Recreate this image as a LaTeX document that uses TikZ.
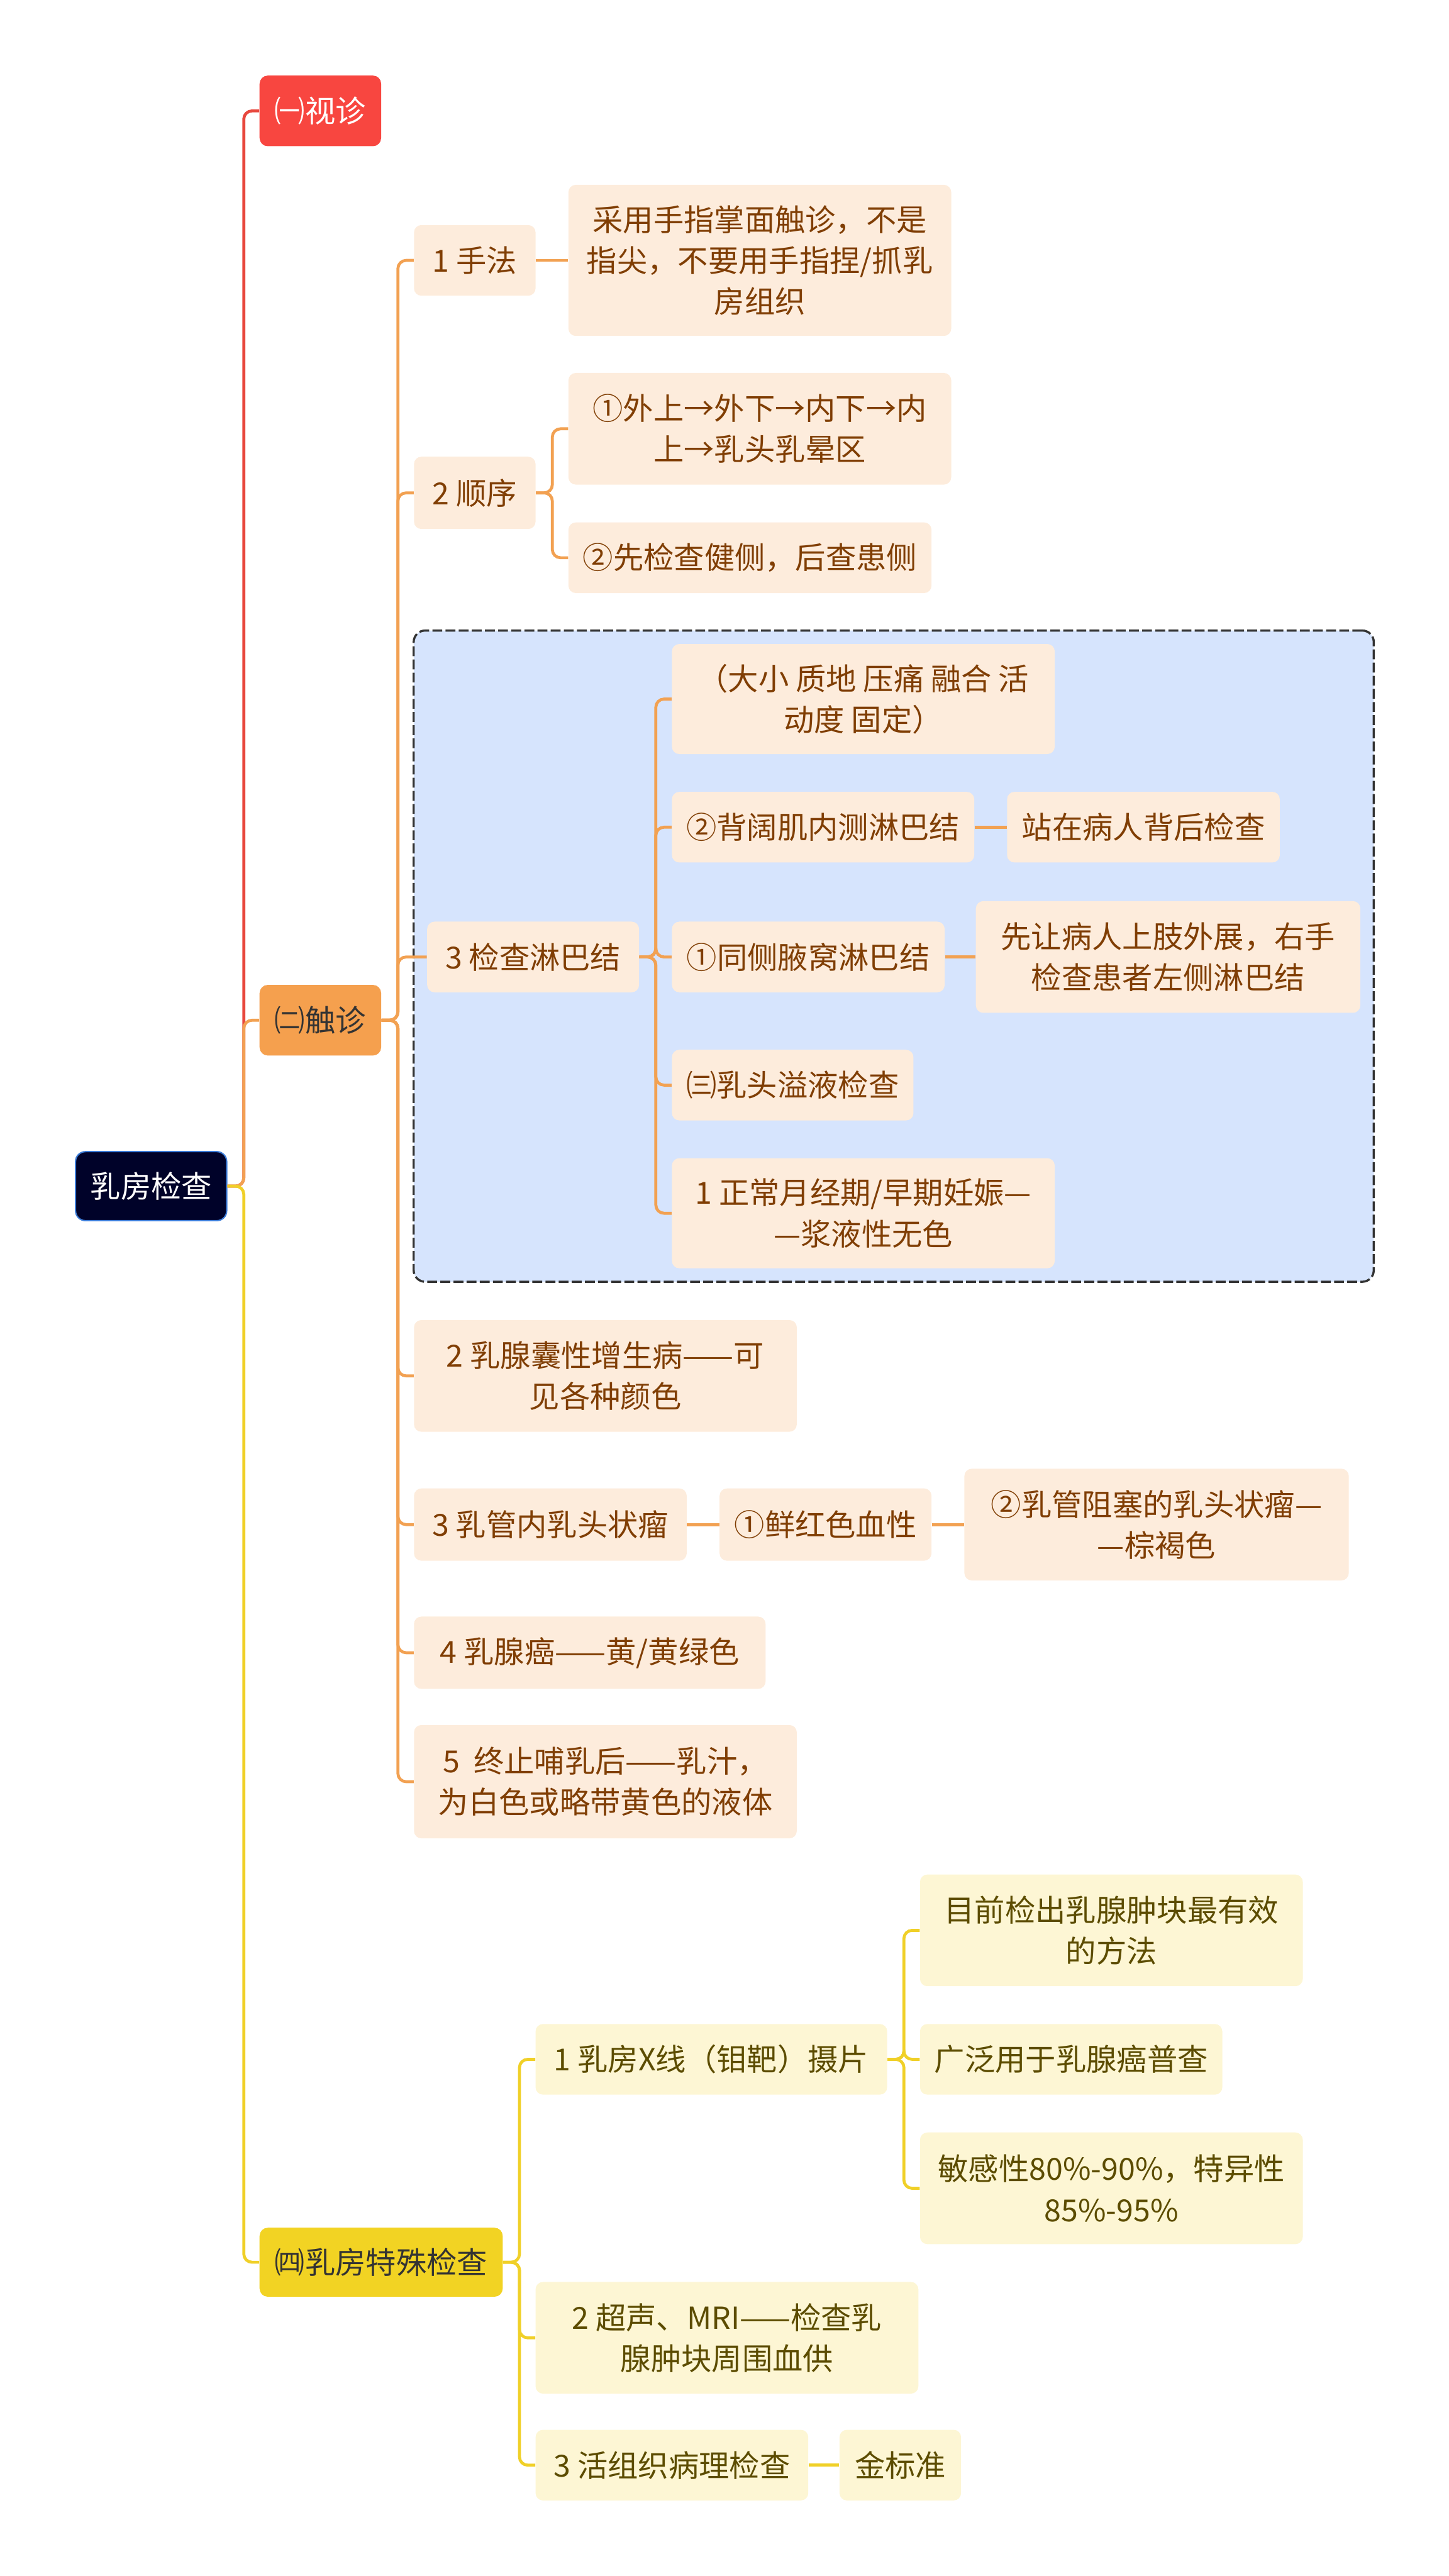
\documentclass[tikz,border=0pt]{standalone}
\usepackage{fontspec}
\setmainfont{Noto Sans CJK SC}
\usetikzlibrary{fit, backgrounds}
\definecolor{cRoot}{RGB}{0,2,41}
\definecolor{cRootLine}{RGB}{61,125,216}
\definecolor{cRed}{RGB}{248,70,64}
\definecolor{cRedLine}{RGB}{232,72,62}
\definecolor{cOrange}{RGB}{245,160,78}
\definecolor{cOrangeLine}{RGB}{242,161,82}
\definecolor{cYellow}{RGB}{242,211,35}
\definecolor{cYellowLine}{RGB}{240,208,40}
\definecolor{cPeach}{RGB}{253,236,220}
\definecolor{cBrown}{RGB}{128,62,4}
\definecolor{cCream}{RGB}{253,246,212}
\definecolor{cOlive}{RGB}{92,76,0}
\definecolor{cGroup}{RGB}{214,228,253}
\definecolor{cDark}{RGB}{51,51,51}
\tikzset{
	sz/.style 2 args={minimum width=#1, minimum height=#2},
	rootnode/.style={rectangle, rounded corners=6pt, draw=cRootLine, line width=0.8pt, fill=cRoot, text=white, inner sep=0pt},
	topic/.style   ={rectangle, rounded corners=5pt, inner sep=0pt, align=center},
	leafO/.style   ={rectangle, rounded corners=4.5pt, fill=cPeach, text=cBrown, inner sep=0pt, align=center},
	leafY/.style   ={rectangle, rounded corners=4.5pt, fill=cCream, text=cOlive, inner sep=0pt, align=center},
	groupbox/.style={rectangle, rounded corners=7pt, fill=cGroup, draw=cDark, line width=1.3pt, dash pattern=on 6pt off 2pt, inner sep=8pt},
	% mind-map connectors
	linkR/.style={draw=cRedLine, line width=1.8pt, rounded corners=5pt},
	linkO/.style={draw=cOrangeLine, line width=1.8pt, rounded corners=5pt},
	linkY/.style={draw=cYellowLine, line width=1.8pt, rounded corners=5pt},
}
\begin{document}
\begin{tikzpicture}[x=1pt, y=-1pt, font=\fontsize{18.5}{25}\selectfont]
	\useasboundingbox (0,0) rectangle (882,1568);
	% root and first level
	\node[rootnode, sz={92pt}{42pt}] (root) at (92,722) {乳房检查};
	\node[topic, sz={74pt}{43pt}, fill=cRed, text=white] (sz1) at (195,67.5) {㈠视诊};
	\node[topic, sz={74pt}{43pt}, fill=cOrange, text=cDark] (cz) at (195,621) {㈡触诊};
	\node[topic, sz={148pt}{42pt}, fill=cYellow, text=cDark] (ts) at (232,1377) {㈣乳房特殊检查};
	% palpation branch
	\node[leafO, sz={74pt}{43pt}] (sf) at (289,158.5) {1 手法};
	\node[leafO, sz={233pt}{92pt}] (sf1) at (462.5,158.5) {采用手指掌面触诊，不是\\指尖，不要用手指捏/抓乳\\房组织};
	\node[leafO, sz={74pt}{44pt}] (sx) at (289,300) {2 顺序};
	\node[leafO, sz={233pt}{68pt}] (sx1) at (462.5,261) {①外上→外下→内下→内\\上→乳头乳晕区};
	\node[leafO, sz={221pt}{43pt}] (sx2) at (456.5,339.5) {②先检查健侧，后查患侧};
	\node[leafO, sz={129pt}{43pt}] (lb) at (324.5,582.5) {3 检查淋巴结};
	\node[leafO, sz={233pt}{67pt}] (lb1) at (525.5,425.5) {（大小 质地 压痛 融合 活\\动度 固定）};
	\node[leafO, sz={184pt}{43pt}] (lb2) at (501,503.5) {②背阔肌内测淋巴结};
	\node[leafO, sz={166pt}{43pt}] (lb2a) at (696,503.5) {站在病人背后检查};
	\node[leafO, sz={166pt}{43pt}] (lb3) at (492,582.5) {①同侧腋窝淋巴结};
	\node[leafO, sz={234pt}{68pt}] (lb3a) at (711,582.5) {先让病人上肢外展，右手\\检查患者左侧淋巴结};
	\node[leafO, sz={147pt}{43pt}] (lb4) at (482.5,660.5) {㈢乳头溢液检查};
	\node[leafO, sz={233pt}{67pt}] (lb5) at (525.5,738.5) {1 正常月经期/早期妊娠—\\—浆液性无色};
	\node[leafO, sz={233pt}{68pt}] (nx) at (368.5,837.5) {2 乳腺囊性增生病——可\\见各种颜色};
	\node[leafO, sz={166pt}{44pt}] (rt) at (335,928) {3 乳管内乳头状瘤};
	\node[leafO, sz={129pt}{44pt}] (rt1) at (502.5,928) {①鲜红色血性};
	\node[leafO, sz={234pt}{68pt}] (rt2) at (704,928) {②乳管阻塞的乳头状瘤—\\—棕褐色};
	\node[leafO, sz={214pt}{44pt}] (ra) at (359,1006) {4 乳腺癌——黄/黄绿色};
	\node[leafO, sz={233pt}{69pt}] (zz) at (368.5,1084.5) {5\ \ 终止哺乳后——乳汁，\\为白色或略带黄色的液体};
	% special examination branch
	\node[leafY, sz={214pt}{43pt}] (xx) at (433,1253.5) {1 乳房X线（钼靶）摄片};
	\node[leafY, sz={233pt}{68pt}] (xx1) at (676.5,1175) {目前检出乳腺肿块最有效\\的方法};
	\node[leafY, sz={184pt}{43pt}] (xx2) at (652,1253.5) {广泛用于乳腺癌普查};
	\node[leafY, sz={233pt}{68pt}] (xx3) at (676.5,1332) {敏感性80\%-90\%，特异性\\85\%-95\%};
	\node[leafY, sz={233pt}{68pt}] (cs) at (442.5,1423) {2 超声、MRI——检查乳\\腺肿块周围血供};
	\node[leafY, sz={166pt}{43pt}] (hz) at (409,1500.5) {3 活组织病理检查};
	\node[leafY, sz={74pt}{43pt}] (hz1) at (548,1500.5) {金标准};
	% lymph node group
	\begin{scope}[on background layer]
		\node[groupbox, fit=(lb)(lb1)(lb3a)(lb5)] (grp) {};
	\end{scope}
	% connectors
	\draw[linkR] (root.east) -- ++(10,0) |- (sz1.west);
	\draw[linkO] (root.east) -- ++(10,0) |- (cz.west);
	\draw[linkY] (root.east) -- ++(10,0) |- (ts.west);
	\foreach \c in {sf,sx,lb,nx,rt,ra,zz}
		\draw[linkO] (cz.east) -- ++(10,0) |- (\c.west);
	\draw[linkO] (sf.east) -- (sf1.west);
	\foreach \c in {sx1,sx2}
		\draw[linkO] (sx.east) -- ++(10,0) |- (\c.west);
	\foreach \c in {lb1,lb2,lb3,lb4,lb5}
		\draw[linkO] (lb.east) -- ++(10,0) |- (\c.west);
	\draw[linkO] (lb2.east) -- (lb2a.west);
	\draw[linkO] (lb3.east) -- (lb3a.west);
	\draw[linkO] (rt.east) -- (rt1.west);
	\draw[linkO] (rt1.east) -- (rt2.west);
	\foreach \c in {xx,cs,hz}
		\draw[linkY] (ts.east) -- ++(10,0) |- (\c.west);
	\foreach \c in {xx1,xx2,xx3}
		\draw[linkY] (xx.east) -- ++(10,0) |- (\c.west);
	\draw[linkY] (hz.east) -- (hz1.west);
\end{tikzpicture}
\end{document}
